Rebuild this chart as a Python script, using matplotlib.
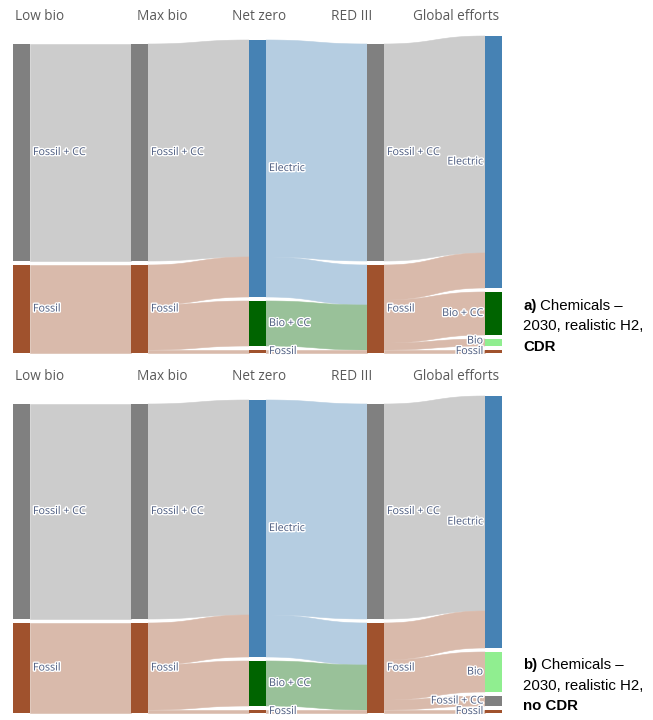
import numpy as np
import matplotlib
matplotlib.use("Agg")
import matplotlib.pyplot as plt
import matplotlib.patheffects as pe

# Scenario columns
columns = ["Low bio", "Max bio", "Net zero", "RED III", "Global efforts"]

node_colors = {
    "Fossil + CC": "#808080",
    "Fossil": "#a0522d",
    "Electric": "#4682b4",
    "Bio + CC": "#006400",
    "Bio": "#90ee90",
}

# Panel a) - CDR
a_nodes = [
    ["Fossil + CC", "Fossil"],
    ["Fossil + CC", "Fossil"],
    ["Electric", "Bio + CC", "Fossil"],
    ["Fossil + CC", "Fossil"],
    ["Electric", "Bio + CC", "Bio", "Fossil"],
]
a_link_step = [0, 0, 1, 1, 1, 1, 2, 2, 2, 2, 3, 3, 3, 3, 3]
a_link_source = ["Fossil + CC", "Fossil",
                 "Fossil + CC", "Fossil", "Fossil", "Fossil",
                 "Electric", "Electric", "Bio + CC", "Fossil",
                 "Fossil + CC", "Fossil", "Fossil", "Fossil", "Fossil"]
a_link_target = ["Fossil + CC", "Fossil",
                 "Electric", "Electric", "Bio + CC", "Fossil",
                 "Fossil + CC", "Fossil", "Fossil", "Fossil",
                 "Electric", "Electric", "Bio + CC", "Bio", "Fossil"]
a_link_value = [217, 88,
                217, 40, 45, 3,
                217, 40, 45, 3,
                217, 35, 43, 7, 3]

# Panel b) - no CDR
b_nodes = [
    ["Fossil + CC", "Fossil"],
    ["Fossil + CC", "Fossil"],
    ["Electric", "Bio + CC", "Fossil"],
    ["Fossil + CC", "Fossil"],
    ["Electric", "Bio", "Fossil + CC", "Fossil"],
]
b_link_step = [0, 0, 1, 1, 1, 1, 2, 2, 2, 2, 3, 3, 3, 3, 3]
b_link_source = ["Fossil + CC", "Fossil",
                 "Fossil + CC", "Fossil", "Fossil", "Fossil",
                 "Electric", "Electric", "Bio + CC", "Fossil",
                 "Fossil + CC", "Fossil", "Fossil", "Fossil", "Fossil"]
b_link_target = ["Fossil + CC", "Fossil",
                 "Electric", "Electric", "Bio + CC", "Fossil",
                 "Fossil + CC", "Fossil", "Fossil", "Fossil",
                 "Electric", "Electric", "Bio", "Fossil + CC", "Fossil"]
b_link_value = [215, 90,
                215, 42, 45, 3,
                215, 42, 45, 3,
                215, 37, 40, 10, 3]

# layout (pixels)
W, H = 653, 720
col_x = [13, 131, 249, 367, 485]
node_w = 17
node_pad = 4
header_x = [15, 137, 232, 331, 413]
label_gap = 10.5


def blend(c, alpha=0.4):
    rgb = np.array(matplotlib.colors.to_rgb(c))
    return tuple(rgb * alpha + (1 - alpha))


def link_band(ax, x0, x1, y0a, y0b, y1a, y1b, color):
    t = np.linspace(0, 1, 60)
    xm = (x0 + x1) / 2
    bx = (1 - t) ** 3 * x0 + 3 * (1 - t) ** 2 * t * xm + 3 * (1 - t) * t ** 2 * xm + t ** 3 * x1
    s = 3 * t ** 2 - 2 * t ** 3
    top = y0a + (y1a - y0a) * s
    bot = y0b + (y1b - y0b) * s
    xs = np.concatenate([bx, bx[::-1]])
    ys = np.concatenate([top, bot[::-1]])
    ax.fill(xs, ys, color=color, lw=0.4, ec=color, zorder=1)


def draw_sankey(ax, nodes, step, src, tgt, val, bottom, header_y):
    # node values: max of in/out
    pos = []
    for c, names in enumerate(nodes):
        vals = []
        for n in names:
            out_v = sum(v for s, a, v in zip(step, src, val) if s == c and a == n)
            in_v = sum(v for s, b, v in zip(step, tgt, val) if s == c - 1 and b == n)
            vals.append(max(out_v, in_v))
        top = bottom - sum(vals) - node_pad * (len(vals) - 1)
        col = {}
        y = top
        for n, v in zip(names, vals):
            col[n] = [y, y + v]
            y += v + node_pad
        pos.append(col)

    # links, stacked in node order at both ends
    out_off = [{n: p[0] for n, p in col.items()} for col in pos]
    in_off = [{n: p[0] for n, p in col.items()} for col in pos]
    order = sorted(range(len(val)),
                   key=lambda i: (step[i], pos[step[i]][src[i]][0], pos[step[i] + 1][tgt[i]][0]))
    for i in order:
        c = step[i]
        y0 = out_off[c][src[i]]
        out_off[c][src[i]] += val[i]
        y1 = in_off[c + 1][tgt[i]]
        in_off[c + 1][tgt[i]] += val[i]
        link_band(ax, col_x[c] + node_w, col_x[c + 1], y0, y0 + val[i], y1, y1 + val[i],
                  blend(node_colors[src[i]]))

    # nodes and labels
    for c, col in enumerate(pos):
        centers = [(y0 + y1) / 2 for y0, y1 in col.values()]
        # spread labels of very thin neighbouring nodes a little
        for k in range(len(centers) - 1, 0, -1):
            if centers[k] - centers[k - 1] < label_gap:
                centers[k - 1] = centers[k] - label_gap
        for (n, (y0, y1)), cy in zip(col.items(), centers):
            ax.add_patch(plt.Rectangle((col_x[c], y0), node_w, y1 - y0,
                                       color=node_colors[n], lw=0, zorder=2))
            if c == len(pos) - 1:
                tx, ha = col_x[c] - 2, "right"
            else:
                tx, ha = col_x[c] + node_w + 3, "left"
            ax.text(tx, cy, n, ha=ha, va="center", fontsize=7.7,
                    family="Open Sans", color="#4a5a7e", zorder=3,
                    path_effects=[pe.withStroke(linewidth=2, foreground="white")])

    for hx, name in zip(header_x, columns):
        ax.text(hx, header_y, name, ha="left", va="center", fontsize=9.8,
                family="Open Sans", color="#5a5a5a")


def caption(ax, fig, x, y, parts, lh=20.5):
    r = fig.canvas.get_renderer()
    for line in parts:
        cx = x
        for txt, bold in line:
            t = ax.text(cx, y, txt, ha="left", va="center", fontsize=10.8,
                        family="Liberation Sans", color="black",
                        weight="bold" if bold else "normal")
            bb = t.get_window_extent(renderer=r)
            cx += bb.width
        y += lh


fig = plt.figure(figsize=(W / 100, H / 100), dpi=100)
ax = fig.add_axes([0, 0, 1, 1])
ax.set_xlim(0, W)
ax.set_ylim(H, 0)
ax.axis("off")

draw_sankey(ax, a_nodes, a_link_step, a_link_source, a_link_target, a_link_value, 353, 16)
draw_sankey(ax, b_nodes, b_link_step, b_link_source, b_link_target, b_link_value, 713, 376)

caption(ax, fig, 523, 306, [[("a)", True), (" Chemicals –", False)],
                            [("2030, realistic H2,", False)],
                            [("CDR", True)]])
caption(ax, fig, 523, 665, [[("b)", True), (" Chemicals –", False)],
                            [("2030, realistic H2,", False)],
                            [("no CDR", True)]])

fig.savefig("out.png", dpi=100)
